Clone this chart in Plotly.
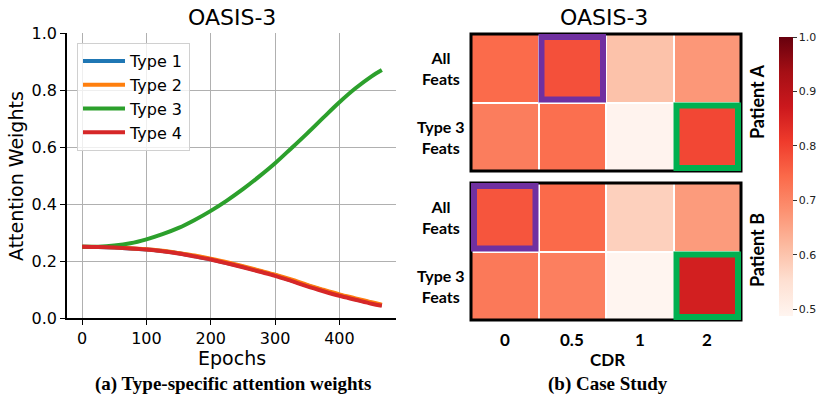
import plotly.graph_objects as go

W, H = 822, 396

# ---------------- data: left panel ----------------
epochs = [0, 25, 50, 75, 100, 125, 150, 175, 200, 225, 250, 275, 300, 325, 350, 375, 400, 425, 450, 466]
type1 = [0.250, 0.249, 0.247, 0.244, 0.240, 0.235, 0.227, 0.217, 0.206, 0.193, 0.180, 0.165, 0.150, 0.132, 0.114, 0.097, 0.081, 0.066, 0.053, 0.045]
type2 = [0.250, 0.249, 0.248, 0.245, 0.241, 0.236, 0.228, 0.219, 0.208, 0.196, 0.182, 0.167, 0.152, 0.135, 0.116, 0.099, 0.083, 0.069, 0.055, 0.047]
type3 = [0.250, 0.250, 0.254, 0.262, 0.276, 0.294, 0.316, 0.344, 0.376, 0.412, 0.452, 0.496, 0.543, 0.595, 0.648, 0.703, 0.757, 0.806, 0.848, 0.870]
type4 = [0.250, 0.249, 0.247, 0.244, 0.240, 0.234, 0.226, 0.216, 0.205, 0.192, 0.178, 0.163, 0.148, 0.130, 0.111, 0.094, 0.078, 0.064, 0.050, 0.043]
series_names = ["Type 1", "Type 2", "Type 3", "Type 4"]
series_colors = ["#1f77b4", "#ff7f0e", "#2ca02c", "#d62728"]

# ---------------- data: right panel ----------------
cdr_labels = ["0", "0.5", "1", "2"]
row_labels = ["All<br>Feats", "Type 3<br>Feats"]
patient_a = [[0.742, 0.779, 0.604, 0.672],
             [0.714, 0.736, 0.493, 0.792]]
patient_b = [[0.772, 0.744, 0.580, 0.666],
             [0.720, 0.710, 0.488, 0.859]]
reds = ["#fff5f0", "#fee0d2", "#fcbba1", "#fc9272", "#fb6a4a",
        "#ef3b2c", "#cb181d", "#a50f15", "#67000d"]
cmin, cmax = 0.488, 1.0
cbar_ticks = [0.5, 0.6, 0.7, 0.8, 0.9, 1.0]
cbar_ticktext = ["0.5", "0.6", "0.7", "0.8", "0.9", "1.0"]

def px_x(p):
    return p / W

def px_y(p):
    return 1 - p / H

fig = go.Figure()

for name, col, ys in zip(series_names, series_colors, [type1, type2, type3, type4]):
    fig.add_trace(go.Scatter(x=epochs, y=ys, mode="lines", name=name,
                             line=dict(color=col, width=4, shape="spline"),
                             xaxis="x", yaxis="y"))

colorscale = [[i / (len(reds) - 1), c] for i, c in enumerate(reds)]

fig.add_trace(go.Heatmap(z=patient_a, x=[0, 1, 2, 3], y=[0, 1], coloraxis="coloraxis",
                         xgap=2, ygap=2, xaxis="x2", yaxis="y2", showlegend=False))
fig.add_trace(go.Heatmap(z=patient_b, x=[0, 1, 2, 3], y=[0, 1], coloraxis="coloraxis",
                         xgap=2, ygap=2, xaxis="x3", yaxis="y3", showlegend=False))

axis_font = dict(family="DejaVu Sans", size=16, color="black")
hx0, hx1 = 471, 741
ya0, ya1 = 34, 171
yb0, yb1 = 183, 320

fig.update_layout(
    width=W, height=H, margin=dict(l=0, r=0, t=0, b=0, pad=0, autoexpand=False),
    paper_bgcolor="white", plot_bgcolor="white",
    xaxis=dict(domain=[px_x(67), px_x(396)], range=[-23.5, 488],
               tickvals=[0, 100, 200, 300, 400], showgrid=True, gridcolor="#b0b0b0", gridwidth=1,
               showline=True, linecolor="black", linewidth=1.5, ticks="outside", ticklen=5,
               tickwidth=1.2, tickcolor="black", zeroline=False, tickfont=axis_font, anchor="y",
               automargin=False),
    yaxis=dict(domain=[px_y(318), px_y(33)], range=[0, 1], tickvals=[0, 0.2, 0.4, 0.6, 0.8, 1.0],
               tickformat=".1f", showgrid=True, gridcolor="#b0b0b0", gridwidth=1,
               showline=True, linecolor="black", linewidth=1.5, ticks="outside", ticklen=5,
               tickwidth=1.2, tickcolor="black", zeroline=False, tickfont=axis_font, anchor="x",
               automargin=False),
    xaxis2=dict(domain=[px_x(hx0), px_x(hx1)], range=[-0.5, 3.5], showticklabels=False,
                showgrid=False, zeroline=False, ticks="", anchor="y2", automargin=False),
    yaxis2=dict(domain=[px_y(ya1), px_y(ya0)], range=[1.5, -0.5], showticklabels=False,
                showgrid=False, zeroline=False, ticks="", anchor="x2", automargin=False),
    xaxis3=dict(domain=[px_x(hx0), px_x(hx1)], range=[-0.5, 3.5], showticklabels=False,
                showgrid=False, zeroline=False, ticks="", anchor="y3", automargin=False),
    yaxis3=dict(domain=[px_y(yb1), px_y(yb0)], range=[1.5, -0.5], showticklabels=False,
                showgrid=False, zeroline=False, ticks="", anchor="x3", automargin=False),
    coloraxis=dict(colorscale=colorscale, cmin=cmin, cmax=cmax,
                   colorbar=dict(x=px_x(779), xanchor="left", xref="paper",
                                 y=px_y(316), yanchor="bottom", yref="paper",
                                 len=(316 - 37) / H, lenmode="fraction", thickness=14,
                                 thicknessmode="pixels", outlinewidth=0, tickvals=cbar_ticks,
                                 ticktext=cbar_ticktext, ticks="outside", ticklen=4, tickcolor="#333",
                                 tickfont=dict(family="DejaVu Sans", size=11, color="#222"),
                                 xpad=0, ypad=0)),
    legend=dict(x=px_x(77), y=px_y(43), xanchor="left", yanchor="top",
                bgcolor="rgba(255,255,255,0.8)", bordercolor="#d0d0d0", borderwidth=1,
                itemwidth=42,
                font=dict(family="DejaVu Sans", size=16, color="black")),
    showlegend=True,
)

# ---------------- shapes ----------------
shapes = []
for yr in ["y2", "y3"]:
    xr = "x2" if yr == "y2" else "x3"
    shapes.append(dict(type="rect", xref=xr + " domain", yref=yr + " domain", x0=0, x1=1, y0=0, y1=1,
                       line=dict(color="black", width=3)))

cell_w = (hx1 - hx0) / 4
cell_h = (ya1 - ya0) / 2
ins_x = 3 / cell_w
ins_y = 3 / cell_h

def highlight(xr, yr, col, row, color):
    return dict(type="rect", xref=xr, yref=yr,
                x0=col - 0.5 + ins_x, x1=col + 0.5 - ins_x,
                y0=row - 0.5 + ins_y, y1=row + 0.5 - ins_y,
                line=dict(color=color, width=6))

purple = "#7030a0"
green = "#00b050"
shapes.append(highlight("x2", "y2", 1, 0, purple))
shapes.append(highlight("x2", "y2", 3, 1, green))
shapes.append(highlight("x3", "y3", 0, 0, purple))
shapes.append(highlight("x3", "y3", 3, 1, green))
fig.update_layout(shapes=shapes)

# ---------------- annotations ----------------
ann = []
def add_text(text, x, y, size, family="DejaVu Sans", bold=False, angle=0):
    ann.append(dict(text=text, x=px_x(x), y=px_y(y), xref="paper", yref="paper",
                    xanchor="center", yanchor="middle", showarrow=False, textangle=angle,
                    align="center",
                    font=dict(family=family, size=size, color="black",
                              weight="bold" if bold else "normal")))

add_text("OASIS-3", 232, 18, 22)
add_text("OASIS-3", 604, 18, 22)
add_text("Attention Weights", 16, 176, 19, angle=-90)
add_text("Epochs", 232, 358, 19)
add_text("(a) Type-specific attention weights", 233, 384, 19, family="Liberation Serif", bold=True)
add_text("(b) Case Study", 608, 384, 19, family="Liberation Serif", bold=True)
add_text("CDR", 607, 359, 17, family="Lato", bold=True)
add_text("Patient A", 757, 102, 18, family="Lato", bold=True, angle=-90)
add_text("Patient B", 757, 250, 18, family="Lato", bold=True, angle=-90)
for i, lab in enumerate(row_labels):
    add_text(lab, 441, ya0 + cell_h * (i + 0.5), 16, family="Lato", bold=True)
    add_text(lab, 441, yb0 + cell_h * (i + 0.5), 16, family="Lato", bold=True)
# CDR tick labels placed on the heatmap's x scale
for i, lab in enumerate(cdr_labels):
    ann.append(dict(text=lab, x=i, xref="x3", y=px_y(339), yref="paper",
                    xanchor="center", yanchor="middle", showarrow=False,
                    font=dict(family="Lato", size=17, color="black", weight="bold")))
fig.update_layout(annotations=ann)

fig.write_html("out.html", post_script="document.body.style.margin='0';",
               config={"displayModeBar": False})
